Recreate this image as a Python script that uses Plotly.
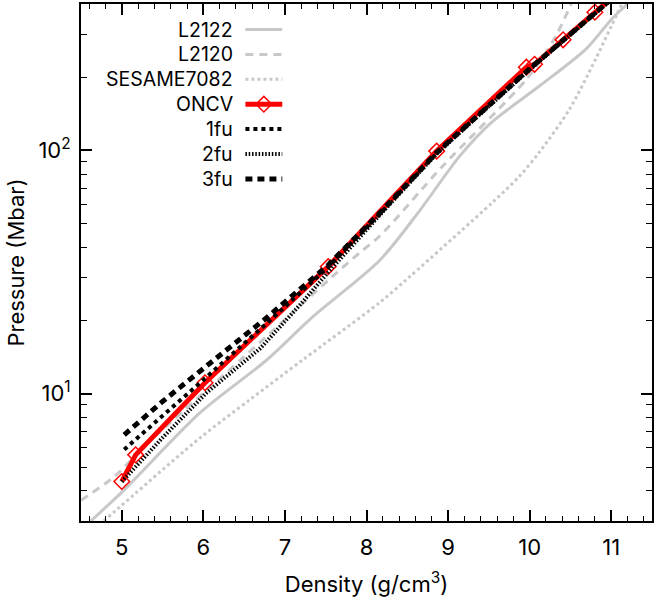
import math
import plotly.graph_objects as go

# Equation-of-state curves: density (g/cm^3) against pressure (Mbar)
l2122_rho = [4.62, 5.03, 5.96, 6.78, 7.34, 8.16, 8.65, 9.14, 9.54, 10.12, 10.69, 11.01, 11.2]
l2122_p = [3.0, 4.03, 8.36, 13.8, 20.7, 35.3, 56.5, 94.6, 131, 184, 261, 348, 400]

l2120_rho = [4.5, 4.91, 5.32, 6.5, 7.58, 7.92, 8.16, 8.93, 9.96, 10.28, 10.51]
l2120_p = [3.65, 4.57, 6.27, 14.2, 30.3, 38.1, 44.4, 86, 196, 279, 400]

sesame_rho = [4.78, 5.96, 6.57, 7.22, 8.16, 8.53, 9.54, 9.87, 10.12, 10.49, 10.81, 11.06, 11.13]
sesame_p = [3.0, 6.59, 9.46, 13.8, 23.7, 30.3, 61, 78, 98.5, 148, 238, 357, 400]

oncv_rho = [5.00, 5.17, 6.02, 7.53, 8.86, 9.96, 10.06, 10.41, 10.80, 11.10]
oncv_p = [4.36, 5.61, 11.1, 33.3, 99.4, 220, 226, 285, 370, 450]

fu1_rho = [5.03, 5.5, 6.0, 6.8, 7.53, 8.2, 8.86, 9.5, 10.0, 10.4, 10.8, 11.1]
fu1_p = [5.9, 8.1, 11.4, 19.8, 33.2, 56.5, 97.5, 153, 216, 281, 366, 446]

fu2_rho = [5.0, 5.5, 6.04, 6.7, 7.2, 7.58, 8.2, 8.86, 9.5, 10.0, 10.4, 10.8, 11.1]
fu2_p = [4.35, 6.6, 10.1, 15.4, 23.5, 33.0, 56, 97, 152, 215, 280, 365, 445]

fu3_rho = [5.03, 5.5, 6.0, 6.75, 7.53, 8.2, 8.86, 9.5, 10.0, 10.4, 10.8, 11.1]
fu3_p = [6.78, 9.3, 12.7, 20.2, 33.8, 57, 98, 154, 217, 282, 367, 447]

x_ticks = [5, 6, 7, 8, 9, 10, 11]
y_ticks = [10, 100]
y_tick_text = ["10<sup>1</sup>", "10<sup>2</sup>"]
y_minor = [3, 4, 5, 6, 7, 8, 9, 20, 30, 40, 50, 60, 70, 80, 90, 200, 300, 400]

FONT = "Inter"
GRAY = "#c8c8c8"

series = [
    ("L2122", l2122_rho, l2122_p, dict(color=GRAY, width=3, shape="spline", smoothing=0.8), None),
    ("L2120", l2120_rho, l2120_p, dict(color=GRAY, width=3, dash="8px,6px", shape="spline", smoothing=0.8), None),
    ("SESAME7082", sesame_rho, sesame_p, dict(color=GRAY, width=3, dash="3px,3px", shape="spline", smoothing=0.8), None),
    ("ONCV", oncv_rho, oncv_p, dict(color="#ff0000", width=5),
     dict(symbol="diamond-open", size=12, color="#ff0000", line=dict(width=1.5, color="#ff0000"))),
    ("1fu", fu1_rho, fu1_p, dict(color="black", width=4, dash="4px,4px"), None),
    ("2fu", fu2_rho, fu2_p, dict(color="black", width=4, dash="1.5px,1.8px"), None),
    ("3fu", fu3_rho, fu3_p, dict(color="black", width=5, dash="7px,5px"), None),
]

fig = go.Figure()

for name, xs, ys, line, marker in series:
    fig.add_trace(go.Scatter(
        x=xs, y=ys, name=name,
        mode="lines+markers" if marker else "lines",
        line=line, marker=marker, showlegend=False,
    ))

# Key drawn on an overlay frame measured in pixels, text to the left of each sample
row0, row_step = 29.5, 24.9
text_right, seg_x0, seg_x1 = 236, 246, 283
for i, (name, xs, ys, line, marker) in enumerate(series):
    ry = row0 + i * row_step
    key_line = {k: v for k, v in line.items() if k not in ("shape", "smoothing")}
    fig.add_trace(go.Scatter(
        x=[seg_x0, seg_x1], y=[ry, ry], mode="lines", line=key_line,
        xaxis="x2", yaxis="y2", showlegend=False, hoverinfo="skip",
    ))
    if marker:
        fig.add_trace(go.Scatter(
            x=[(seg_x0 + seg_x1) / 2], y=[ry], mode="markers", marker=marker,
            xaxis="x2", yaxis="y2", showlegend=False, hoverinfo="skip",
        ))
    fig.add_annotation(
        x=text_right, y=ry, xref="x2", yref="y2", text=name, showarrow=False,
        xanchor="right", yanchor="middle", font=dict(family=FONT, size=19.5, color="black"),
    )

axis_common = dict(
    showline=True, linewidth=2, linecolor="black", mirror="allticks",
    ticks="inside", ticklen=11, tickwidth=1.5, tickcolor="black",
    showgrid=False, zeroline=False,
    tickfont=dict(family=FONT, size=22, color="black"),
    title_font=dict(family=FONT, size=22, color="black"),
)

fig.update_layout(
    width=654, height=605,
    margin=dict(l=81, r=0, t=4, b=84),
    paper_bgcolor="white", plot_bgcolor="white",
    xaxis=dict(
        range=[4.5, 11.5], tickmode="array", tickvals=x_ticks,
        ticklabelstandoff=6,
        minor=dict(dtick=0.2, tick0=5, ticklen=5, tickwidth=1.2, tickcolor="black", ticks="inside"),
        title=dict(text="Density (g/cm<sup>3</sup>)", standoff=17),
        **axis_common,
    ),
    yaxis=dict(
        type="log", range=[math.log10(3), math.log10(400)],
        tickmode="array", tickvals=y_ticks, ticktext=y_tick_text,
        ticklabelstandoff=4,
        minor=dict(tickmode="array", tickvals=y_minor, ticklen=6, tickwidth=1.2,
                   tickcolor="black", ticks="inside"),
        title=dict(text="Pressure (Mbar)", standoff=8),
        **axis_common,
    ),
    xaxis2=dict(overlaying="x", range=[81, 654], visible=False, fixedrange=True),
    yaxis2=dict(overlaying="y", range=[521, 4], visible=False, fixedrange=True),
)

fig.write_html("out.html")
